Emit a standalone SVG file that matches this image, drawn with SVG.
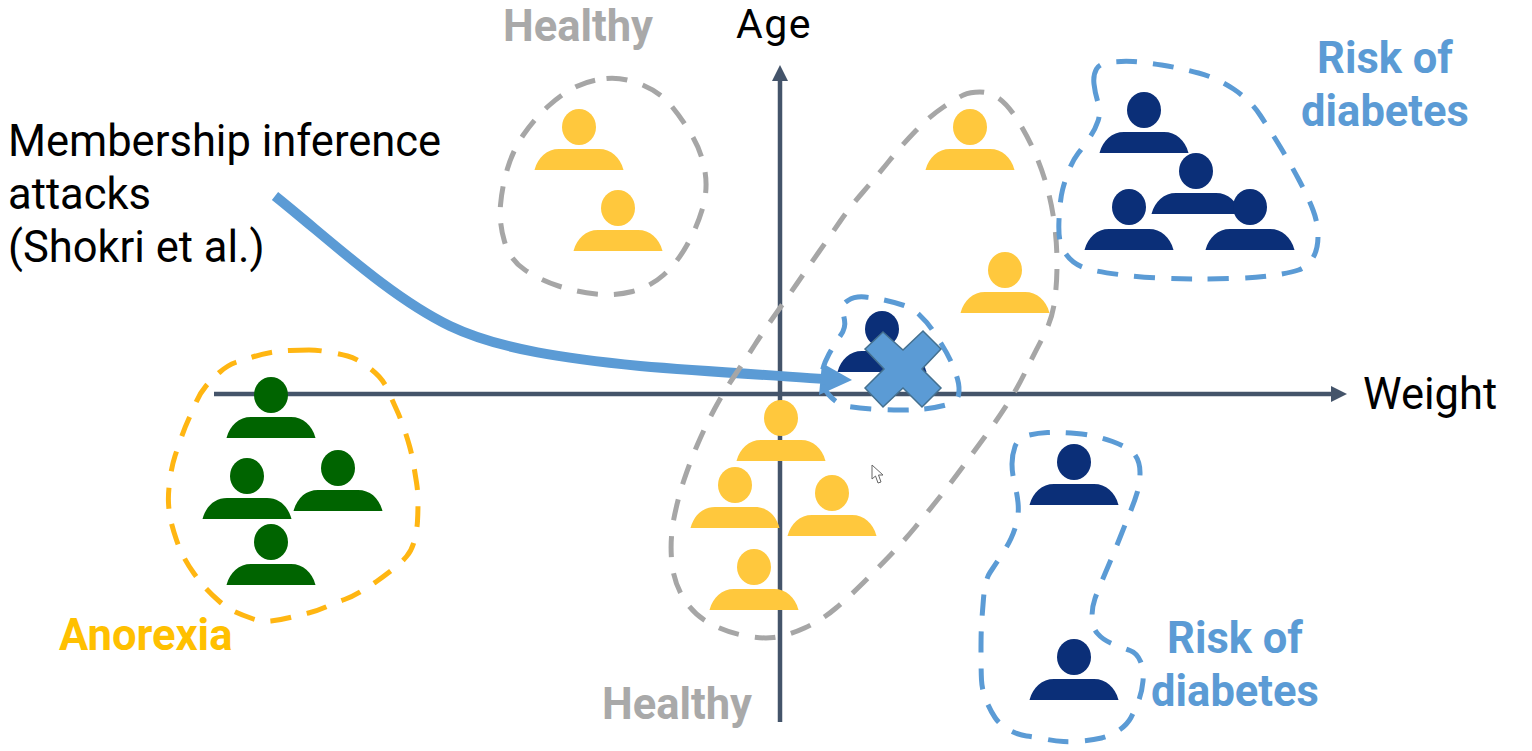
<svg xmlns="http://www.w3.org/2000/svg" width="1532" height="751" viewBox="0 0 1532 751">
<style>
text{font-family:Roboto,"Liberation Sans",sans-serif}
.t{font-size:43.5px;fill:#000}
.b{font-size:43.5px;font-weight:700}
.g{fill:#a9a9a9}.u{fill:#5b9bd5}.o{fill:#ffc000}
.d{fill:none;stroke-width:5;stroke-dasharray:21 16;stroke-linejoin:round}
.dg{stroke:#a6a6a6}.du{stroke:#5b9bd5}.dy{stroke:#ffb612}
.y{fill:#ffc83d}.n{fill:#0b2f78}.v{fill:#006400}
.ax{stroke:#44546a;stroke-width:4.5;fill:none}
</style>
<defs>
<g id="p"><ellipse cx="0" cy="0" rx="17" ry="18"/><path d="M-44.5 43C-41 30-32 22-20 22H20C32 22 41 30 44.5 43Z"/></g>
</defs>
<g id="connectors">
<path class="ax" d="M780 722V80"/><path d="M780 65L788 81H772Z" fill="#44546a"/>
<path class="ax" d="M214 394H1334"/><path d="M1347 394L1331 386V402Z" fill="#44546a"/>
<path d="M275 196C330 240 390 297 450 326C500 350 570 359 640 366C700 371 765 375 825 379" fill="none" stroke="#5b9bd5" stroke-width="10"/>
<path d="M852 380L822 363L819 395Z" fill="#5b9bd5"/>
</g>
<g id="group-healthy-top"><path class="d dg" d="M606.5 78.5Q623 77 641.5 84.5Q660 92 671.5 106Q683 120 692.5 136.5Q702 153 705 171.5Q708 190 702.5 208.5Q697 227 687 245Q677 263 663.5 275Q650 287 632.5 291.5Q615 296 596 294Q577 292 558.5 286Q540 280 525 270Q510 260 504.5 241.5Q499 223 500.5 205Q502 187 507.5 168.5Q513 150 524 134Q535 118 549 105.5Q563 93 576.5 86.5Q590 80 606.5 78.5Z"/></g>
<g id="group-healthy-main"><path class="d dg" d="M963.5 95Q970 92 980 92Q990 92 999 98.5Q1008 105 1017.5 120Q1027 135 1034.5 152Q1042 169 1047 187Q1052 205 1054.5 224.5Q1057 244 1057 264Q1057 284 1054.5 302Q1052 320 1042.5 338Q1033 356 1025 372.5Q1017 389 1007 404.5Q997 420 985 436.5Q973 453 961.5 468.5Q950 484 938.5 498.5Q927 513 915 527.5Q903 542 890 555.5Q877 569 863.5 582.5Q850 596 836 608Q822 620 804.5 628Q787 636 773.5 637.5Q760 639 741.5 635Q723 631 707.5 622Q692 613 682.5 596.5Q673 580 671.5 559Q670 538 674 518Q678 498 684 480Q690 462 697.5 444.5Q705 427 714 410Q723 393 734 376.5Q745 360 755 344.5Q765 329 776 313.5Q787 298 797 283.5Q807 269 818.5 252.5Q830 236 840 221.5Q850 207 863.5 191.5Q877 176 889.5 160.5Q902 145 916 130.5Q930 116 943.5 107Q957 98 963.5 95Z"/></g>
<g id="group-risk-right"><path class="d du" d="M1094 84Q1093 75 1096.5 69Q1100 63 1111.5 62Q1123 61 1133 61.5Q1143 62 1161.5 65Q1180 68 1198.5 73Q1217 78 1233.5 89Q1250 100 1260 115Q1270 130 1280 146.5Q1290 163 1299 180Q1308 197 1313 210Q1318 223 1318 236.5Q1318 250 1312.5 258.5Q1307 267 1298.5 270Q1290 273 1271.5 275.5Q1253 278 1233 278.5Q1213 279 1195 279Q1177 279 1157.5 278Q1138 277 1119 274.5Q1100 272 1090 269.5Q1080 267 1073.5 262Q1067 257 1062.5 248.5Q1058 240 1059 220Q1060 200 1062.5 190Q1065 180 1069 170Q1073 160 1078 153.5Q1083 147 1089 138.5Q1095 130 1098 121Q1101 112 1098 102.5Q1095 93 1094 84Z"/></g>
<g id="group-risk-small"><path class="d du" d="M848 300.5Q855 296 865 297Q875 298 884 300Q893 302 902.5 305Q912 308 919.5 315Q927 322 932 329.5Q937 337 942 345Q947 353 951 361.5Q955 370 957.5 379Q960 388 958.5 395Q957 402 946 405Q935 408 924 409Q913 410 900 410Q887 410 872.5 409Q858 408 848 406.5Q838 405 829 395Q820 385 821.5 375Q823 365 829 354Q835 343 840.5 335.5Q846 328 844.5 320Q843 312 842 308.5Q841 305 848 300.5Z"/></g>
<g id="group-risk-lower"><path class="d du" d="M1012 464Q1012 455 1015 446.5Q1018 438 1027.5 435.5Q1037 433 1047.5 432.5Q1058 432 1076.5 433.5Q1095 435 1112.5 441.5Q1130 448 1135 455Q1140 462 1140 472.5Q1140 483 1137.5 491.5Q1135 500 1131 510Q1127 520 1120 537.5Q1113 555 1105.5 572.5Q1098 590 1095 598.5Q1092 607 1092 617Q1092 627 1097.5 633.5Q1103 640 1113 644Q1123 648 1130 650.5Q1137 653 1140.5 661.5Q1144 670 1143 681Q1142 692 1138.5 701Q1135 710 1131 717.5Q1127 725 1118.5 730.5Q1110 736 1101.5 738Q1093 740 1082.5 741Q1072 742 1063.5 741.5Q1055 741 1045 739Q1035 737 1026.5 736Q1018 735 1009 730Q1000 725 995 717.5Q990 710 986 700Q982 690 981.5 680Q981 670 981 651.5Q981 633 981.5 625Q982 617 983.5 598.5Q985 580 990 572.5Q995 565 1001 556Q1007 547 1011 538.5Q1015 530 1017 521Q1019 512 1018 502.5Q1017 493 1014.5 483Q1012 473 1012 464Z"/></g>
<g id="group-anorexia"><path class="d dy" d="M309 350Q300 350 290 350.5Q280 351 271 352.5Q262 354 252.5 357Q243 360 235.5 362.5Q228 365 220 372Q212 379 206 386Q200 393 196 402.5Q192 412 188.5 419.5Q185 427 181.5 437Q178 447 175 456Q172 465 170 479Q168 493 168.5 503Q169 513 171 521.5Q173 530 176.5 540Q180 550 184 557.5Q188 565 194 573.5Q200 582 206 588.5Q212 595 219.5 601.5Q227 608 234.5 611.5Q242 615 252 618.5Q262 622 271 621Q280 620 290 617.5Q300 615 308.5 613Q317 611 327 606.5Q337 602 344.5 599.5Q352 597 361 591.5Q370 586 376.5 581.5Q383 577 392 570Q401 563 406.5 556.5Q412 550 414.5 540Q417 530 417.5 521Q418 512 418 502Q418 492 416.5 482.5Q415 473 413.5 464Q412 455 409.5 446Q407 437 403.5 427Q400 417 396.5 409.5Q393 402 389 392.5Q385 383 379 376.5Q373 370 364 364Q355 358 347.5 356Q340 354 329 352Q318 350 309 350Z"/></g>
<g id="person-y1" class="y"><use href="#p" x="579" y="127"/></g>
<g id="person-y2" class="y"><use href="#p" x="618" y="208"/></g>
<g id="person-y3" class="y"><use href="#p" x="970" y="127"/></g>
<g id="person-y4" class="y"><use href="#p" x="1005" y="270"/></g>
<g id="person-y5" class="y"><use href="#p" x="781" y="418"/></g>
<g id="person-y6" class="y"><use href="#p" x="735" y="485"/></g>
<g id="person-y7" class="y"><use href="#p" x="832" y="493"/></g>
<g id="person-y8" class="y"><use href="#p" x="754" y="567"/></g>
<g id="person-n1" class="n"><use href="#p" x="1144" y="110"/></g>
<g id="person-n2" class="n"><use href="#p" x="1196" y="171"/></g>
<g id="person-n3" class="n"><use href="#p" x="1129" y="207"/></g>
<g id="person-n4" class="n"><use href="#p" x="1250" y="207"/></g>
<g id="person-n5" class="n"><use href="#p" x="1074" y="462"/></g>
<g id="person-n6" class="n"><use href="#p" x="1074" y="657"/></g>
<g id="person-n7" class="n"><use href="#p" x="882" y="329"/></g>
<g id="person-g1" class="v"><use href="#p" x="271" y="395"/></g>
<g id="person-g2" class="v"><use href="#p" x="247" y="476"/></g>
<g id="person-g3" class="v"><use href="#p" x="338" y="468"/></g>
<g id="person-g4" class="v"><use href="#p" x="271" y="542"/></g>
<g id="cross"><path d="M883 332L903 350L923 331L941 349L922 369L941 388L922 407L903 388L883 407L865 388L884 369L865 349Z" fill="#5b9bd5" stroke="#44708f" stroke-width="1.5"/></g>
<g id="cursor"><path d="M872 465V479L875.5 476L878 483L881 482L878.5 475L883 475Z" fill="#fff" stroke="#666" stroke-width="1"/></g>
<g id="labels">
<text class="t" x="8" y="156">Membership inference</text>
<text class="t" x="8" y="209">attacks</text>
<text class="t" x="8" y="262">(Shokri et al.)</text>
<text class="t" x="736" y="38" style="font-size:41px;letter-spacing:1.5px">Age</text>
<text class="t" x="1363" y="409">Weight</text>
<text class="b g" x="503" y="41">Healthy</text>
<text class="b g" x="602" y="719">Healthy</text>
<text class="b o" x="59" y="650">Anorexia</text>
<text class="b u" x="1385" y="73" text-anchor="middle">Risk of</text>
<text class="b u" x="1385" y="126" text-anchor="middle">diabetes</text>
<text class="b u" x="1235" y="653" text-anchor="middle">Risk of</text>
<text class="b u" x="1235" y="706" text-anchor="middle">diabetes</text>
</g>
</svg>
